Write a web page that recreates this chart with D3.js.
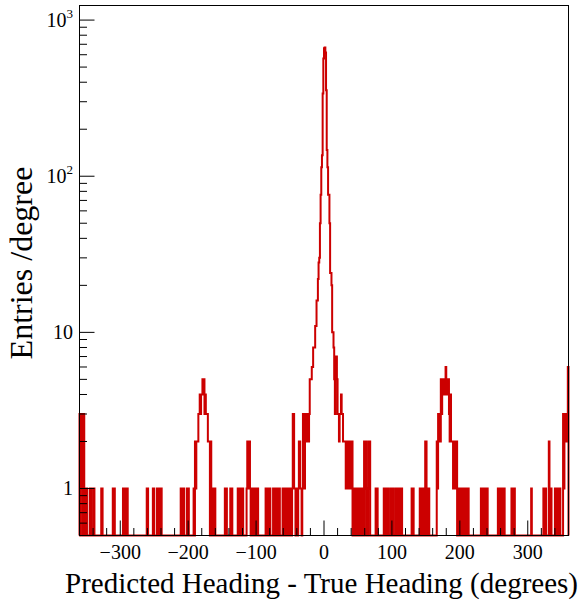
<!DOCTYPE html>
<html>
<head>
<meta charset="utf-8">
<script src="https://d3js.org/d3.v7.min.js"></script>
<style>
body {
  margin: 0;
  background: white;
}
svg {
  display: block;
  font-family: "Liberation Serif", "Times New Roman", serif;
}
</style>
</head>
<body>
<div id="chart"></div>
<script>
// 1 degree bins from -360 to 360, bins are given by their lower edge
// only the non empty bins are listed

// left wing (including the bump near -180)
var leftBins = [-360, -358, -357, -356, -354, -353, -351, -350, -345, -344, -340, -339,
  -328, -327, -311, -309, -296, -294, -292, -290, -261, -260, -252, -251,
  -246, -244, -242, -240, -211, -209, -207, -202, -200,
  -192, -190, -189, -188, -187, -186, -185, -184, -183, -182, -181, -180, -179, -178,
  -177, -176, -175, -174, -173, -172, -171, -170, -169, -167, -166, -164, -162, -161,
  -146, -144, -138, -136, -127, -125, -123, -122, -120,
  -114, -113, -112, -111, -110, -109, -107, -105, -104, -102, -100, -98,
  -86, -84, -82, -80, -75, -73, -71, -70, -68, -66, -61, -59,
  -56, -54, -52, -50, -49, -47, -46, -45, -44, -43, -41, -40,
  -38, -37, -36, -35, -34, -32, -31, -30, -29, -28, -27];
var leftCounts = [3, 3, 1, 3, 3, 1, 1, 1, 1, 1, 1, 1,
  1, 1, 1, 1, 1, 1, 1, 1, 1, 1, 1, 1,
  1, 1, 1, 1, 1, 1, 1, 1, 1,
  1, 2, 1, 2, 2, 2, 3, 3, 4, 3, 4, 4, 5, 4,
  5, 3, 4, 3, 3, 3, 2, 2, 2, 2, 1, 1, 1, 1,
  1, 1, 1, 1, 1, 1, 1, 1, 1,
  1, 2, 2, 1, 2, 1, 1, 1, 1, 1, 1, 1,
  1, 1, 1, 1, 1, 1, 1, 1, 1, 1, 1, 1,
  1, 1, 1, 1, 1, 1, 3, 3, 1, 1, 1, 1,
  1, 2, 2, 1, 1, 1, 3, 3, 1, 3, 2];

// central peak, consecutive bins starting at peakFirstBin
var peakFirstBin = -26;
var peakCounts = [2, 3, 3, 2, 3, 5, 5, 5, 6, 6, 8, 8, 8, 11, 11, 16, 16, 22, 28, 30,
  50, 76, 114, 136, 339, 567, 660, 667, 620, 355, 147, 114, 76, 76, 50, 24, 24, 20,
  10, 10, 8, 5, 3, 7, 7, 5, 3, 3, 2, 3, 3, 4, 3, 3, 2, 2, 2, 2];

// right wing (including the bump near +180)
var rightBins = [32, 33, 34, 35, 36, 37, 38, 39, 40, 41, 43, 44, 46, 47, 49, 51, 52, 54, 56,
  59, 60, 61, 63, 65, 66, 67, 76, 78, 88, 90, 92, 94, 98, 100, 102, 106, 108, 110, 112, 114,
  129, 131, 141, 143, 145, 147, 149, 150, 152, 154,
  166, 167, 168, 169, 170, 171, 172, 173, 174, 175, 176, 177, 178, 179, 180, 181, 182,
  183, 184, 185, 186, 187, 188, 189, 190, 191, 192, 193, 194, 195,
  197, 199, 201, 203, 204, 206, 208, 210, 212, 231, 233, 235, 238, 240,
  256, 258, 259, 261, 263, 265, 276, 278, 280, 305, 323, 325, 326,
  331, 332, 334, 340, 342, 345, 347, 352, 353, 354, 355, 356, 357, 358, 359];
var rightCounts = [1, 2, 2, 1, 2, 1, 2, 1, 1, 2, 1, 1, 1, 1, 1, 1, 1, 1, 1,
  2, 1, 2, 1, 2, 1, 2, 1, 1, 1, 1, 1, 1, 1, 1, 1, 1, 1, 1, 1, 1,
  1, 1, 1, 1, 1, 1, 2, 2, 1, 1,
  2, 1, 3, 2, 3, 2, 5, 3, 5, 4, 4, 5, 4, 6, 4, 5, 4,
  5, 3, 2, 4, 2, 2, 2, 1, 2, 2, 1, 2, 2,
  1, 1, 1, 1, 1, 1, 1, 1, 1, 1, 1, 1, 1, 1,
  1, 1, 1, 1, 1, 1, 1, 1, 1, 1, 1, 1, 1,
  2, 1, 1, 1, 1, 1, 1, 3, 1, 3, 2, 2, 3, 2, 6];

var xMajor = [-300, -200, -100, 0, 100, 200, 300];
var xLabels = ["\u2212300", "\u2212200", "\u2212100", "0", "100", "200", "300"];
var yMajor = [1, 10, 100, 1000];
var yLabels = [["1", ""], ["10", ""], ["10", "2"], ["10", "3"]];
var yMinor = [0.6, 0.7, 0.8, 0.9, 2, 3, 4, 5, 6, 7, 8, 9,
  20, 30, 40, 50, 60, 70, 80, 90, 200, 300, 400, 500, 600, 700, 800, 900];

var WIDTH = 583;
var HEIGHT = 608;
var LINE_RED = "#cc0000";

var svg = d3.select("#chart").append("svg")
  .attr("width", WIDTH)
  .attr("height", HEIGHT)

var x = d3.scaleLinear().domain([-360, 360]).range([79.5, 568.5])
var y = d3.scaleLog().domain([0.5, 1240]).range([535.5, 5.5])

// fill the 720 bins
var counts = d3.range(720).map(function() { return 0; })
leftBins.forEach(function(b, i) { counts[b + 360] = leftCounts[i]; })
peakCounts.forEach(function(c, i) { counts[peakFirstBin + i + 360] = c; })
rightBins.forEach(function(b, i) { counts[b + 360] = rightCounts[i]; })

var pts = [[-360, 0]]
counts.forEach(function(c, i) { pts.push([i - 360, c]); })
pts.push([360, counts[719]])
pts.push([360, 0])

var histLine = d3.line()
  .curve(d3.curveStepAfter)
  .x(function(d) { return x(d[0]); })
  .y(function(d) { return d[1] > 0 ? y(d[1]) : y(0.5); })

svg.append("path")
  .datum(pts)
  .attr("d", histLine)
  .attr("fill", "none")
  .attr("stroke", LINE_RED)
  .attr("stroke-width", 2)

//frame_____________________________________________________
svg.append("rect")
  .attr("x", x(-360))
  .attr("y", y(1240))
  .attr("width", x(360) - x(-360))
  .attr("height", y(0.5) - y(1240))
  .attr("fill", "none")
  .attr("stroke", "black")
  .attr("stroke-width", 1)

//x ticks____________________________________________________
var xMinor = d3.range(-360, 361, 20).filter(function(v) { return v % 100 !== 0; })
var xAxis = svg.append("g")
xAxis.selectAll("line.minor")
  .data(xMinor)
  .enter().append("line")
    .attr("x1", function(d) { return x(d); })
    .attr("x2", function(d) { return x(d); })
    .attr("y1", y(0.5))
    .attr("y2", y(0.5) - 7.5)
    .attr("stroke", "black")
xAxis.selectAll("line.major")
  .data(xMajor)
  .enter().append("line")
    .attr("x1", function(d) { return x(d); })
    .attr("x2", function(d) { return x(d); })
    .attr("y1", y(0.5))
    .attr("y2", y(0.5) - 15)
    .attr("stroke", "black")
xAxis.selectAll("text")
  .data(xMajor)
  .enter().append("text")
    .attr("x", function(d) { return x(d); })
    .attr("y", 559)
    .attr("text-anchor", "middle")
    .attr("font-size", 20)
    .text(function(d, i) { return xLabels[i]; })

//y ticks____________________________________________________
var yAxis = svg.append("g")
yAxis.selectAll("line.minor")
  .data(yMinor)
  .enter().append("line")
    .attr("x1", x(-360))
    .attr("x2", x(-360) + 7.5)
    .attr("y1", function(d) { return y(d); })
    .attr("y2", function(d) { return y(d); })
    .attr("stroke", "black")
yAxis.selectAll("line.major")
  .data(yMajor)
  .enter().append("line")
    .attr("x1", x(-360))
    .attr("x2", x(-360) + 15)
    .attr("y1", function(d) { return y(d); })
    .attr("y2", function(d) { return y(d); })
    .attr("stroke", "black")
var yText = yAxis.selectAll("text")
  .data(yMajor)
  .enter().append("text")
    .attr("x", 73)
    .attr("y", function(d) { return y(d) + 7; })
    .attr("text-anchor", "end")
    .attr("font-size", 20)
yText.append("tspan")
  .text(function(d, i) { return yLabels[i][0]; })
yText.append("tspan")
  .attr("font-size", 13)
  .attr("dy", -9)
  .text(function(d, i) { return yLabels[i][1]; })

//titles_____________________________________________________
svg.append("text")
  .attr("x", 578)
  .attr("y", 593)
  .attr("text-anchor", "end")
  .attr("font-size", 29)
  .text("Predicted Heading - True Heading (degrees)")

svg.append("text")
  .attr("transform", "translate(32,263) rotate(-90)")
  .attr("text-anchor", "middle")
  .attr("font-size", 32)
  .text("Entries /degree")
</script>
</body>
</html>
